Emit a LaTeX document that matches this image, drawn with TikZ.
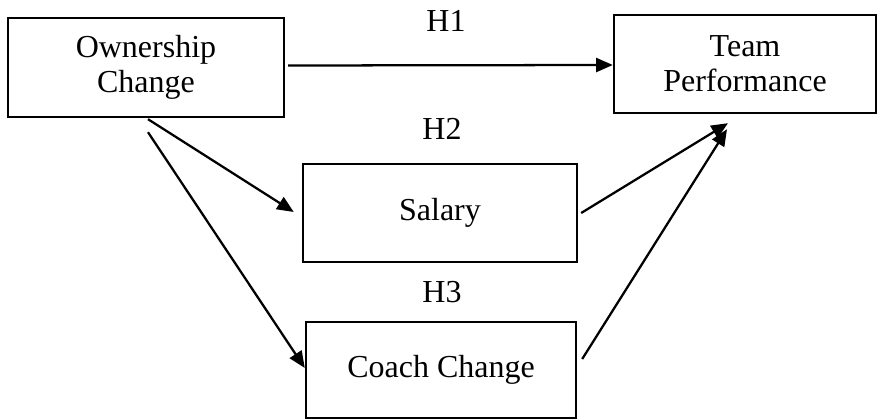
\documentclass[tikz,border=0pt]{standalone}
\usepackage{fontspec}
\setmainfont{Liberation Serif}
\usetikzlibrary{arrows.meta,calc}
\begin{document}
\begin{tikzpicture}[x=0.75pt,y=-0.75pt,
  box/.style={draw,line width=1.8pt,inner sep=0pt,align=center,
    font=\fontsize{24}{26.5}\selectfont},
  lbl/.style={inner sep=0pt,anchor=base,font=\fontsize{24}{26.5}\selectfont},
  arr/.style={line width=1.7pt,-{Triangle[length=12.5pt,width=10.5pt]}}]
\useasboundingbox (0,0) rectangle (878,420);
\node[box,minimum width=276*0.75pt,minimum height=99*0.75pt] (own) at (146,67.5) {Ownership\\Change};
\node[box,minimum width=262*0.75pt,minimum height=98*0.75pt] (team) at (745,64) {Team\\Performance};
\node[box,minimum width=274*0.75pt,minimum height=98*0.75pt] (sal) at (440,213) {Salary};
\node[box,minimum width=270*0.75pt,minimum height=96*0.75pt] (coach) at (441,370) {Coach Change};
\node[lbl] (h1) at (446,32) {H1};
\node[lbl] (h2) at (442,140) {H2};
\node[lbl] (h3) at (442,303) {H3};
\draw[arr] ($(own.east)+(3,-2)$) -- ($(team.west)+(0,1)$);
\draw[arr] ($(own.south)+(2,1)$) -- ($(sal.west)+(-8,-1)$);
\draw[arr] ($(own.south)+(2,14)$) -- ($(coach.west)+(0,-2)$);
\draw[arr] ($(sal.east)+(3,0)$) -- ($(team.south)+(-17,9)$);
\draw[arr] ($(coach.east)+(5,-11)$) -- ($(team.south)+(-18,15)$);
\end{tikzpicture}
\end{document}
